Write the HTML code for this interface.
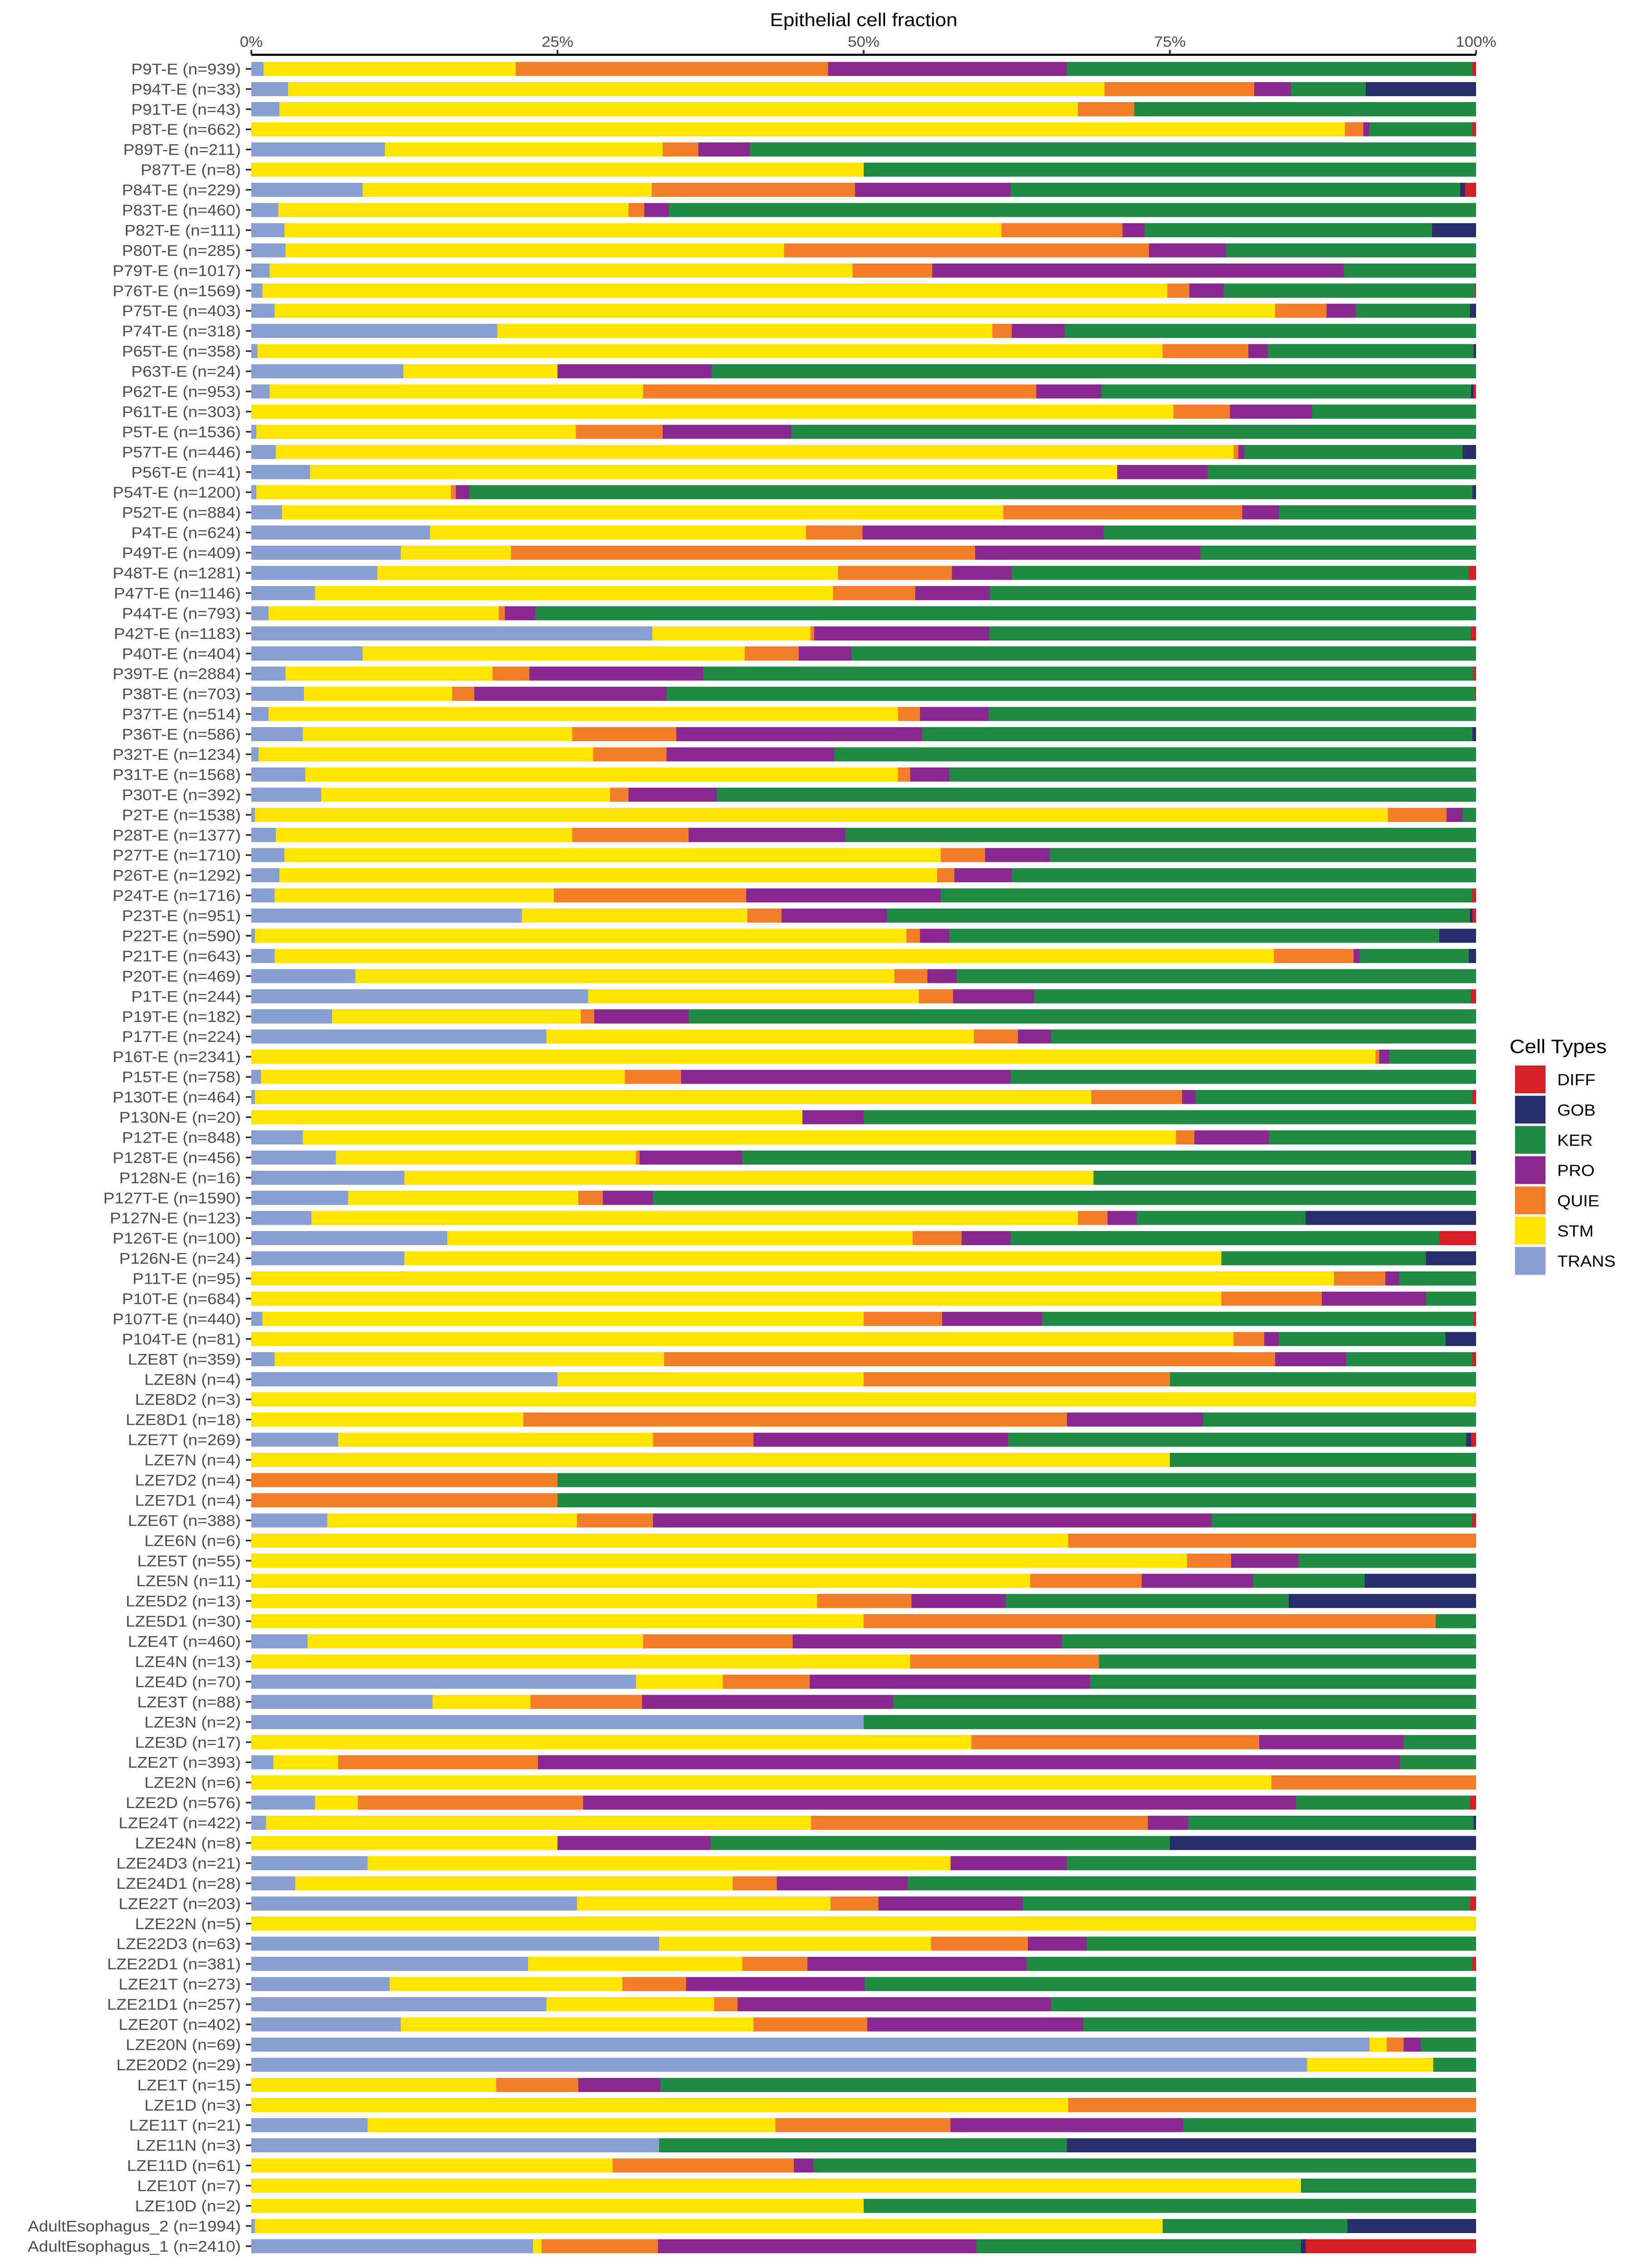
<!DOCTYPE html>
<html><head><meta charset="utf-8"><title>Epithelial cell fraction</title>
<style>html,body{margin:0;padding:0;background:#fff;width:100%;height:100%;overflow:hidden}svg{display:block;position:fixed;left:0;top:0;width:100vw;height:100vh}text{font-family:"Liberation Sans",Arial,sans-serif}</style>
</head><body>
<svg id="chart" viewBox="0 0 3600 5400" preserveAspectRatio="none" xmlns="http://www.w3.org/2000/svg">
<rect width="3600" height="5400" fill="#fff"/>
<g id="bars"></g>
<g id="yaxis"></g>
<g id="xaxis"></g>
<text x="1904" y="62" font-size="44" text-anchor="middle" fill="#000">Epithelial cell fraction</text>
<g id="legend"></g>
</svg>
<script>
const categories = ["P9T-E (n=939)","P94T-E (n=33)","P91T-E (n=43)","P8T-E (n=662)","P89T-E (n=211)","P87T-E (n=8)","P84T-E (n=229)","P83T-E (n=460)","P82T-E (n=111)","P80T-E (n=285)",
"P79T-E (n=1017)","P76T-E (n=1569)","P75T-E (n=403)","P74T-E (n=318)","P65T-E (n=358)","P63T-E (n=24)","P62T-E (n=953)","P61T-E (n=303)","P5T-E (n=1536)","P57T-E (n=446)",
"P56T-E (n=41)","P54T-E (n=1200)","P52T-E (n=884)","P4T-E (n=624)","P49T-E (n=409)","P48T-E (n=1281)","P47T-E (n=1146)","P44T-E (n=793)","P42T-E (n=1183)","P40T-E (n=404)",
"P39T-E (n=2884)","P38T-E (n=703)","P37T-E (n=514)","P36T-E (n=586)","P32T-E (n=1234)","P31T-E (n=1568)","P30T-E (n=392)","P2T-E (n=1538)","P28T-E (n=1377)","P27T-E (n=1710)",
"P26T-E (n=1292)","P24T-E (n=1716)","P23T-E (n=951)","P22T-E (n=590)","P21T-E (n=643)","P20T-E (n=469)","P1T-E (n=244)","P19T-E (n=182)","P17T-E (n=224)","P16T-E (n=2341)",
"P15T-E (n=758)","P130T-E (n=464)","P130N-E (n=20)","P12T-E (n=848)","P128T-E (n=456)","P128N-E (n=16)","P127T-E (n=1590)","P127N-E (n=123)","P126T-E (n=100)","P126N-E (n=24)",
"P11T-E (n=95)","P10T-E (n=684)","P107T-E (n=440)","P104T-E (n=81)","LZE8T (n=359)","LZE8N (n=4)","LZE8D2 (n=3)","LZE8D1 (n=18)","LZE7T (n=269)","LZE7N (n=4)",
"LZE7D2 (n=4)","LZE7D1 (n=4)","LZE6T (n=388)","LZE6N (n=6)","LZE5T (n=55)","LZE5N (n=11)","LZE5D2 (n=13)","LZE5D1 (n=30)","LZE4T (n=460)","LZE4N (n=13)",
"LZE4D (n=70)","LZE3T (n=88)","LZE3N (n=2)","LZE3D (n=17)","LZE2T (n=393)","LZE2N (n=6)","LZE2D (n=576)","LZE24T (n=422)","LZE24N (n=8)","LZE24D3 (n=21)",
"LZE24D1 (n=28)","LZE22T (n=203)","LZE22N (n=5)","LZE22D3 (n=63)","LZE22D1 (n=381)","LZE21T (n=273)","LZE21D1 (n=257)","LZE20T (n=402)","LZE20N (n=69)","LZE20D2 (n=29)",
"LZE1T (n=15)","LZE1D (n=3)","LZE11T (n=21)","LZE11N (n=3)","LZE11D (n=61)","LZE10T (n=7)","LZE10D (n=2)","AdultEsophagus_2 (n=1994)","AdultEsophagus_1 (n=2410)"];

const TRANS = [1.0,3.0,2.3,0,10.9,0,9.1,2.2,2.7,2.8, 1.5,0.9,1.9,20.1,0.5,12.4,1.5,0,0.4,2.0, 4.8,0.4,2.5,14.6,12.2,10.3,5.2,1.4,32.7,9.1, 2.8,4.3,1.4,4.2,0.6,4.4,5.7,0.3,2.0,2.7, 2.3,1.9,22.1,0.3,1.9,8.5,27.5,6.6,24.1,0, 0.8,0.3,0,4.2,6.9,12.5,7.9,4.9,16,12.5, 0,0,0.9,0,1.9,25,0,0,7.1,0, 0,0,6.2,0,0,0,0,0,4.6,0, 31.4,14.8,50,0,1.8,0,5.2,1.2,0,9.5, 3.6,26.6,0,33.3,22.6,11.3,24.1,12.2,91.3,86.2, 0,0,9.5,33.3,0,0,0,0.3,23.0];
const STM = [20.6,66.6,65.2,89.3,22.7,50,23.6,28.6,58.6,40.7, 47.6,73.9,81.7,40.4,73.9,12.6,30.5,75.3,26.1,78.2, 65.9,15.9,58.9,30.7,9.0,37.6,42.3,18.8,12.9,31.2, 16.9,12.1,51.4,22.0,27.3,48.4,23.6,92.5,24.2,53.6, 53.7,22.8,18.4,53.2,81.6,44.0,27.0,20.3,34.9,91.8, 29.7,68.3,45.0,71.3,24.5,56.25,18.8,62.6,38,66.7, 88.4,79.2,49.1,80.2,31.8,25,100,22.2,25.7,75, 0,0,20.4,66.7,76.4,63.6,46.2,50,27.4,53.8, 7.1,8.0,0,58.8,5.3,83.3,3.5,44.5,25,47.6, 35.7,20.7,100,22.2,17.5,19.0,13.7,28.8,1.4,10.3, 20,66.7,33.3,0,29.5,85.7,50,74.1,0.7];
const QUIE = [25.5,12.2,4.6,1.5,2.9,0,16.6,1.3,9.9,29.8, 6.5,1.8,4.2,1.6,7.0,0,32.1,4.6,7.1,0.4, 0,0.4,19.5,4.6,37.9,9.3,6.7,0.5,0.3,4.4, 3.0,1.8,1.8,8.5,6.0,1.0,1.5,4.8,9.5,3.6, 1.4,15.7,2.8,1.1,6.5,2.7,2.8,1.1,3.6,0.3, 4.6,7.4,0,1.5,0.3,0,2.0,2.4,4,0, 4.2,8.2,6.4,2.5,49.9,25,0,44.4,8.2,0, 25,25,6.2,33.3,3.6,9.1,7.7,46.7,12.2,15.4, 7.1,9.1,0,23.5,16.3,16.7,18.4,27.5,0,0, 3.6,3.9,0,7.9,5.3,5.2,1.9,9.3,1.4,0, 6.7,33.3,14.3,0,14.8,0,0,0,9.5];
const PRO = [19.5,3.0,0,0.5,4.2,0,12.7,2.0,1.8,6.3, 33.6,2.8,2.4,4.3,1.6,12.6,5.3,6.7,10.5,0.5, 7.4,1.1,3.0,19.7,18.4,4.9,6.1,2.5,14.3,4.3, 14.2,15.7,5.6,20.1,13.7,3.2,7.2,1.3,12.8,5.3, 4.7,15.9,8.6,2.4,0.5,2.4,6.6,7.7,2.7,0.8, 26.9,1.1,5.0,6.1,8.4,0,4.1,2.4,4,0, 1.1,8.5,8.2,1.2,5.8,0,0,11.1,20.8,0, 0,0,45.6,0,5.5,9.1,7.7,0,22.0,0, 22.9,20.5,0,11.8,70.4,0,58.2,3.3,12.5,9.5, 10.7,11.8,0,4.8,17.9,14.6,25.6,17.6,1.4,0, 6.7,0,19.0,0,1.6,0,0,0,26.0];
const KER = [33.1,6.1,27.9,8.4,59.3,50,36.7,65.9,23.5,20.4, 10.8,20.5,9.3,33.6,16.8,62.4,30.2,13.4,55.9,17.8, 21.9,81.9,16.1,30.4,22.5,37.3,39.7,76.8,39.3,51.0, 62.9,66.0,39.8,44.9,52.4,43.0,62.0,1.1,51.5,34.8, 37.9,43.4,47.6,40.0,8.9,42.4,35.7,64.3,34.7,7.1, 38.0,22.6,50.0,16.9,59.5,31.25,67.2,13.8,35,16.7, 6.3,4.1,35.2,13.6,10.3,25,0,22.3,37.4,25, 75,75,21.3,0,14.5,9.1,23.1,3.3,33.8,30.8, 31.5,47.6,50,5.9,6.2,0,14.2,23.3,37.5,33.4, 46.4,36.5,0,31.8,36.4,49.9,34.7,32.1,4.5,3.5, 66.6,0,23.9,33.3,54.1,14.3,50,15.1,26.5];
const GOB = [0,9.0,0,0,0,0,0.4,0,3.6,0, 0,0,0.5,0,0.2,0,0.2,0,0,1.1, 0,0.3,0,0,0,0,0,0,0,0, 0,0,0,0.3,0,0,0,0,0,0, 0,0,0.2,3.0,0.6,0,0,0,0,0, 0,0,0,0,0.4,0,0,13.9,0,4.1, 0,0,0,2.5,0,0,0,0,0.4,0, 0,0,0,0,0,9.1,15.3,0,0,0, 0,0,0,0,0,0,0,0.2,25,0, 0,0,0,0,0,0,0,0,0,0, 0,0,0,33.4,0,0,0,10.5,0.4];
const DIFF = [0.3,0,0,0.3,0,0,0.9,0,0,0, 0,0.1,0,0,0,0,0.2,0,0,0, 0,0,0,0,0,0.6,0,0,0.4,0, 0.2,0.1,0,0,0,0,0,0,0,0, 0,0.3,0.3,0,0,0,0.4,0,0,0, 0,0.3,0,0,0,0,0,0,3,0, 0,0,0.2,0,0.3,0,0,0,0.4,0, 0,0,0.3,0,0,0,0,0,0,0, 0,0,0,0,0,0,0.5,0,0,0, 0,0.5,0,0,0.3,0,0,0,0,0, 0,0,0,0,0,0,0,0,13.9];

const seriesNames = ["TRANS","STM","QUIE","PRO","KER","GOB","DIFF"];
const seriesValues = [TRANS,STM,QUIE,PRO,KER,GOB,DIFF];
const seriesColors = ["#8A9FD1","#FEE500","#F47D2B","#89288F","#208A42","#272E6A","#D51F26"];
const legendOrder = ["DIFF","GOB","KER","PRO","QUIE","STM","TRANS"];
const tickValues = [0,0.25,0.5,0.75,1];
const tickLabels = ["0%","25%","50%","75%","100%"];

const NS = "http://www.w3.org/2000/svg";
const X0 = 554, X1 = 3254, Y0 = 164, STEP = 48, BARH = 33.5;
const xScale = v => X0 + v * (X1 - X0);
const yScale = i => Y0 + i * STEP;
function mk(tag, attrs, parent) {
  const el = document.createElementNS(NS, tag);
  for (const k in attrs) el.setAttribute(k, attrs[k]);
  parent.appendChild(el);
  return el;
}
const bars = document.getElementById('bars');
const yaxis = document.getElementById('yaxis');
const xaxis = document.getElementById('xaxis');
const legend = document.getElementById('legend');

categories.forEach((cat, i) => {
  let total = 0;
  seriesValues.forEach(s => total += s[i]);
  let cum = 0;
  const cy = yScale(i);
  seriesValues.forEach((s, k) => {
    const v = s[i] / total;
    if (v > 0) {
      const r = mk('rect', {x: xScale(cum), y: cy - BARH/2, width: xScale(cum + v) - xScale(cum), height: BARH, fill: seriesColors[k], 'shape-rendering':'crispEdges'}, bars);
      
      
    }
    cum += v;
  });
  const t = mk('text', {x: 531, y: cy + 13, 'font-size': 37, 'text-anchor': 'end', fill: '#4D4D4D'}, yaxis);
  t.textContent = cat;
  
  
  const tk = mk('line', {x1: 542, x2: 554, y1: cy, y2: cy, stroke: '#333', 'stroke-width': 4}, yaxis);
  
  
});

const axl = mk('line', {x1: X0, x2: X1, y1: 130.5, y2: 130.5, stroke: '#000', 'stroke-width': 5}, xaxis);


tickValues.forEach((v, k) => {
  const x = xScale(v);
  const tk = mk('line', {x1: x, x2: x, y1: 119, y2: 130, stroke: '#333', 'stroke-width': 4}, xaxis);
  
  
  const t = mk('text', {x: x, y: 111, 'font-size': 35, 'text-anchor': 'middle', fill: '#4D4D4D'}, xaxis);
  t.textContent = tickLabels[k];
  
  
});

const lt = mk('text', {x: 3328, y: 2507, 'font-size': 46, fill: '#000'}, legend);
lt.textContent = 'Cell Types';


legendOrder.forEach((name, k) => {
  const idx = seriesNames.indexOf(name);
  const y = 2537 + k * 72;
  const bg = mk('rect', {x: 3338, y: y - 3, width: 71, height: 72, fill: '#F2F2F2'}, legend);
  
  
  const sw = mk('rect', {x: 3340, y: y, width: 67, height: 66, fill: seriesColors[idx]}, legend);
  
  
  const t = mk('text', {x: 3433, y: y + 47, 'font-size': 38, fill: '#000'}, legend);
  t.textContent = name;
  
  
});
</script>
</body></html>
